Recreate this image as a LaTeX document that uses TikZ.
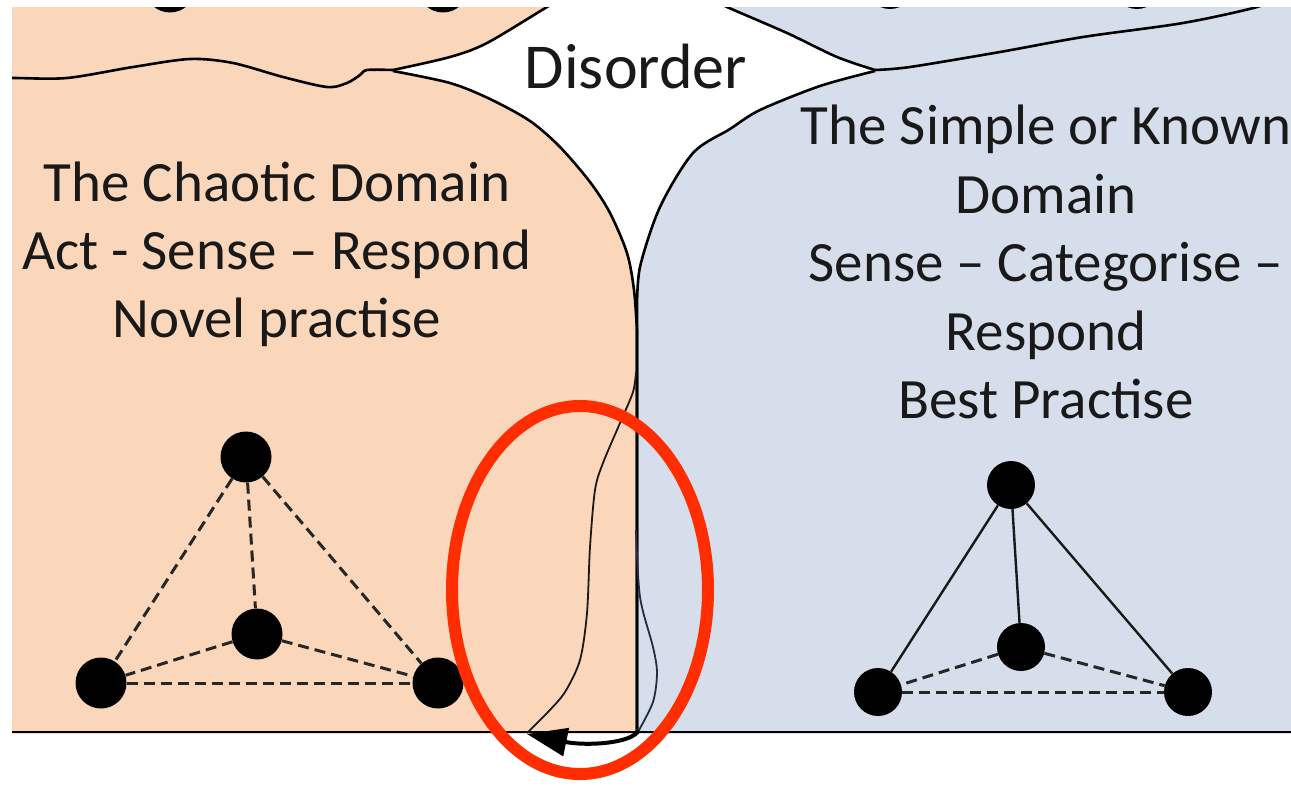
\documentclass[tikz,border=0pt]{standalone}
\usepackage{fontspec}
\setmainfont{Carlito}
\usetikzlibrary{arrows.meta}
\definecolor{chaospeach}{RGB}{250,215,187}
\definecolor{simpleblue}{RGB}{214,222,235}
\definecolor{alertred}{RGB}{255,45,0}
\definecolor{inkgray}{RGB}{25,25,25}
\definecolor{edgeink}{RGB}{35,45,65}

\begin{document}
\begin{tikzpicture}[x=1pt,y=-1pt,
  border/.style={line width=2.6pt, black},
  thinpath/.style={line width=1.8pt, black!90},
  dot/.style={circle, fill=black, inner sep=0pt, minimum size=51pt},
  smalldot/.style={circle, fill=black, inner sep=0pt, minimum size=48pt},
  solidedge/.style={line width=2.4pt, black!90},
  dashededge/.style={line width=3pt, black!85, dash pattern=on 11pt off 6pt},
  domaintext/.style={font=\fontsize{57}{68}\selectfont, text=inkgray, anchor=base, inner sep=0pt},
]
\useasboundingbox (0,0) rectangle (1291,787);

% ---- domain regions (pixel coordinates, y pointing down) ----
\begin{scope}
  \clip (12,7) rectangle (1291,733);
  % chaotic domain and the bubble above it
  \fill[chaospeach] (12,0) -- (560,0)
    -- plot[smooth] coordinates {(560,0) (547,7) (487,43) (450,57) (393,70)}
    -- plot[smooth] coordinates {(393,71) (450,83) (490,99) (530,121) (560,147) (590,182) (610,213) (627,253) (634,290) (637,330)}
    -- (637,740) -- (0,740) -- (0,0) -- cycle;
  % simple domain and the bubble above it
  \fill[simpleblue] (1300,0) -- (715,0)
    -- plot[smooth] coordinates {(715,0) (727,7) (787,33) (837,57) (875,70)}
    -- plot[smooth] coordinates {(875,71) (820,86) (760,110) (730,129) (693,153) (660,207) (640,267) (637,310)}
    -- (637,740) -- (1300,740) -- cycle;

  % outlines
  \draw[border] plot[smooth] coordinates {(0,79) (13,78) (67,78) (133,67) (190,59) (233,63) (283,77) (327,87) (347,83) (360,75) (367,70) (393,70)};
  \draw[border] plot[smooth] coordinates {(560,0) (547,7) (487,43) (450,57) (393,70)};
  \draw[border] plot[smooth] coordinates {(393,71) (450,83) (490,99) (530,121) (560,147) (590,182) (610,213) (627,253) (634,290) (637,330)} -- (637,733);
  \draw[border] plot[smooth] coordinates {(715,0) (727,7) (787,33) (837,57) (875,70)};
  \draw[border] plot[smooth] coordinates {(875,70) (910,67) (1000,52) (1083,37) (1183,23) (1257,7) (1275,-3)};
  \draw[border] plot[smooth] coordinates {(875,71) (820,86) (760,110) (730,129) (693,153) (660,207) (640,267) (637,310)} -- (637,733);

  % dots of the neighbouring domains above
  \node[dot] (UL1) at (170,-13) {};
  \node[dot] (UL2) at (443,-13) {};
  \node[smalldot] (UR1) at (890,-15) {};
  \node[smalldot] (UR2) at (1137,-15) {};
\end{scope}

% ground line
\coordinate (groundL) at (12,732);
\coordinate (groundR) at (1291,732);
\draw[border] (groundL) -- (groundR);

% ---- labels ----
\node[font=\fontsize{64}{72}\selectfont, text=inkgray, anchor=base, inner sep=0pt] (disorder) at (636,88) {Disorder};

\node[domaintext] (chaosA) at (277,201) {The Chaotic Domain};
\node[domaintext] (chaosB) at (277,269) {Act - Sense – Respond};
\node[domaintext] (chaosC) at (277,337) {Novel practise};

\node[domaintext] (simpleA) at (1046,144) {The Simple or Known};
\node[domaintext] (simpleB) at (1046,213) {Domain};
\node[domaintext] (simpleC) at (1046,281) {Sense – Categorise –};
\node[domaintext] (simpleD) at (1046,350) {Respond};
\node[domaintext] (simpleE) at (1046,418) {Best Practise};

% ---- chaotic constraints: all links loose ----
\node[dot] (cTop) at (246,457) {};
\node[dot] (cMid) at (257,634) {};
\node[dot] (cLeft) at (101,683) {};
\node[dot] (cRight) at (438,683) {};
\draw[dashededge] (cTop) -- (cLeft);
\draw[dashededge] (cTop) -- (cRight);
\draw[dashededge] (cTop) -- (cMid);
\draw[dashededge] (cMid) -- (cLeft);
\draw[dashededge] (cMid) -- (cRight);
\draw[dashededge] (cLeft) -- (cRight);

% ---- simple constraints: rigid top links ----
\node[smalldot] (sTop) at (1011,485) {};
\node[smalldot] (sMid) at (1021,647) {};
\node[smalldot] (sLeft) at (878,692) {};
\node[smalldot] (sRight) at (1188,692) {};
\draw[solidedge] (sTop) -- (sLeft);
\draw[solidedge] (sTop) -- (sRight);
\draw[solidedge] (sTop) -- (sMid);
\draw[dashededge] (sMid) -- (sLeft);
\draw[dashededge] (sMid) -- (sRight);
\draw[dashededge] (sLeft) -- (sRight);

% ---- the cliff: fall from simple into chaos ----
\coordinate (cliffFoot) at (527,734);
\coordinate (edgeFoot) at (639,730);
\draw[thinpath] plot[smooth] coordinates {(636,372) (633,392) (620,423) (603,463) (595,490) (590,547) (587,613) (580,660) (565,692) (548,712) (527,733)};
\draw[thinpath, edgeink] plot[smooth] coordinates {(636,530) (640,597) (653,647) (657,673) (653,702) (639,730)};
\draw[line width=4pt, -{Triangle[length=40pt,width=28pt]}]
  (edgeFoot) .. controls (632,744) and (585,746) .. (cliffFoot);

% highlight ring
\draw[alertred, line width=12pt] (580,590) ellipse [x radius=128, y radius=184];
\end{tikzpicture}
\end{document}
